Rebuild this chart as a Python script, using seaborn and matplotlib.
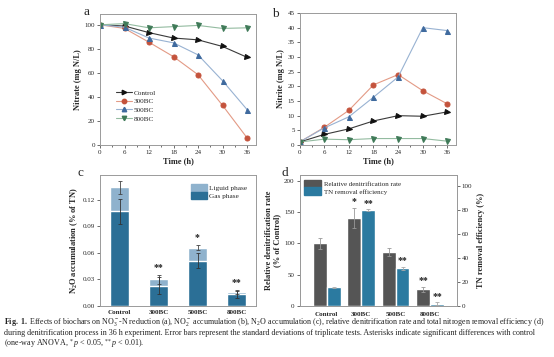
import numpy as np
import pandas as pd
import matplotlib.pyplot as plt
import seaborn as sns
from matplotlib.patches import Patch
from matplotlib.lines import Line2D

# time points (h)
time = [0, 6, 12, 18, 24, 30, 36]
groups = ['Control', '300BC', '500BC', '800BC']

# panel a: nitrate (mg N/L)
nitrate = {
    'Control': [100, 99, 93.5, 89, 87.5, 82, 73],
    '300BC': [100, 97, 85.5, 73.5, 58.5, 33, 6],
    '500BC': [100, 98, 89, 85, 75, 53.5, 29.5],
    '800BC': [100, 101, 97.5, 98.5, 99.5, 97, 97.5],
}
# panel b: nitrite (mg N/L)
nitrite = {
    'Control': [1, 3.6, 5.5, 8.2, 10, 9.8, 11.3],
    '300BC': [1, 6, 11.8, 20.5, 24, 18.5, 14],
    '500BC': [1, 5.8, 9.6, 16.3, 23.2, 40, 39],
    '800BC': [1, 2, 1.8, 2.2, 2.2, 2.2, 1.3],
}

# panel c: N2O accumulation (% of TN)
n2o_total = [0.134, 0.030, 0.066, 0.016]
n2o_total_err = [0.007, 0.005, 0.003, 0.002]
n2o_gas = [0.107, 0.023, 0.051, 0.013]
n2o_gas_err = [0.014, 0.010, 0.0085, 0.004]
n2o_stars = ['', '**', '*', '**']

# panel d
rate = [100, 141, 86, 27]
rate_err = [9, 16, 6, 4]
rate_stars = ['', '*', '', '**']
tn_eff = [15.5, 80, 31.5, 2]
tn_err = [0.6, 0.6, 1.2, 1.5]
tn_stars = ['', '**', '**', '**']

sns.set_style('ticks')
plt.rcParams['font.family'] = ['Liberation Serif', 'DejaVu Serif']
plt.rcParams['mathtext.fontset'] = 'custom'
plt.rcParams['mathtext.rm'] = 'Liberation Serif'
plt.rcParams['mathtext.it'] = 'Liberation Serif:italic'
plt.rcParams['mathtext.bf'] = 'Liberation Serif:bold'

line_col = {'Control': '#3a3a3a', '300BC': '#e39a85', '500BC': '#98b2d2', '800BC': '#93bba0'}
mark_col = {'Control': '#111111', '300BC': '#c4533c', '500BC': '#3f6a9e', '800BC': '#3f7a58'}
markers = {'Control': '>', '300BC': 'o', '500BC': '^', '800BC': 'v'}
spine_c = '#9a9a9a'
fs_tick = 5
fs_lab = 6

fig = plt.figure(figsize=(5.54, 3.57), dpi=100)


def style(ax):
    for s in ax.spines.values():
        s.set_color(spine_c)
        s.set_linewidth(0.7)
        s.set_visible(True)
    ax.tick_params(labelsize=fs_tick, length=2, width=0.6, color='#555555', pad=1.5)


def lines(ax, data):
    for g in groups:
        sns.lineplot(x=time, y=data[g], ax=ax, color=line_col[g], lw=0.8,
                     marker=markers[g], markersize=3.6, markerfacecolor=mark_col[g],
                     markeredgecolor=mark_col[g], label=g, legend=False)
    ax.set_xlim(0, 38.2)
    ax.set_xticks(time)
    ax.set_xticks([3, 9, 15, 21, 27, 33], minor=True)
    ax.tick_params(which='minor', length=1.2, color='#555555')
    ax.set_xlabel('Time (h)', fontsize=fs_lab, fontweight='bold', labelpad=2)
    style(ax)


W = 156 / 554
H = 131 / 357

# panel a
ax_a = fig.add_axes([100 / 554, 1 - 145 / 357, W, H])
lines(ax_a, nitrate)
ax_a.set_ylim(0, 109)
ax_a.set_yticks(range(0, 101, 20))
ax_a.set_ylabel('Nitrate (mg N/L)', fontsize=fs_lab, fontweight='bold', labelpad=2)
handles = [Line2D([], [], color=line_col[g], lw=0.8, marker=markers[g], markersize=3.2,
                  markerfacecolor=mark_col[g], markeredgecolor=mark_col[g]) for g in groups]
ax_a.legend(handles, groups, loc='center left', bbox_to_anchor=(0.06, 0.3), frameon=False,
            fontsize=5.2, handlelength=2.2, labelspacing=0.35, handletextpad=0.3)
fig.text(83 / 554, 1 - 12 / 357, 'a', fontsize=9.5, va='center')

# panel b
ax_b = fig.add_axes([299.5 / 554, 1 - 145 / 357, 157 / 554, 132 / 357])
lines(ax_b, nitrite)
ax_b.set_ylim(0, 45)
ax_b.set_yticks(range(0, 46, 5))
ax_b.set_ylabel('Nitrite (mg N/L)', fontsize=fs_lab, fontweight='bold', labelpad=2)
fig.text(272 / 554, 1 - 14 / 357, 'b', fontsize=9.5, va='center')

# panel c
ax_c = fig.add_axes([100 / 554, 1 - 306 / 357, W, H])
liquid_c = '#8fb2cd'
gas_c = '#2b6f96'
sns.barplot(x=groups, y=n2o_total, ax=ax_c, color=liquid_c, width=0.5, saturation=1, errorbar=None)
sns.barplot(x=groups, y=n2o_gas, ax=ax_c, color=gas_c, width=0.5, saturation=1, errorbar=None)
xc = np.arange(len(groups))
ax_c.errorbar(xc, n2o_total, yerr=n2o_total_err, fmt='none', ecolor='#444444', elinewidth=0.6, capsize=1.5, capthick=0.6)
ax_c.errorbar(xc, n2o_gas, yerr=n2o_gas_err, fmt='none', ecolor='#333333', elinewidth=0.6, capsize=1.5, capthick=0.6)
for i, s in enumerate(n2o_stars):
    if s:
        ax_c.text(i, n2o_total[i] + n2o_total_err[i] + 0.003, s, ha='center', va='bottom',
                  fontsize=7, fontweight='bold', color='#222222')
ax_c.set_xlim(-0.5, 3.5)
ax_c.set_ylim(0, 0.148)
ax_c.set_yticks([0, 0.03, 0.06, 0.09, 0.12])
ax_c.set_yticklabels(['0.00', '0.03', '0.06', '0.09', '0.12'])
ax_c.set_xticks(xc)
ax_c.set_xticklabels(groups, fontweight='bold')
ax_c.set_ylabel(r'$\mathbf{N_2O}$ accumulation (% of TN)', fontsize=fs_lab, fontweight='bold', labelpad=2)
style(ax_c)
ax_c.tick_params(axis='x', length=0, pad=3)
ax_c.legend([Patch(color=liquid_c), Patch(color=gas_c)], ['Liguid phase', 'Gas phase'],
            loc='upper right', frameon=False, fontsize=5.2, handlelength=2.2, handleheight=1.3,
            labelspacing=0.0, handletextpad=0.3, borderaxespad=0.8)
fig.text(77 / 554, 1 - 173 / 357, 'c', fontsize=9.5, va='center')

# panel d
ax_d = fig.add_axes([299.5 / 554, 1 - 306 / 357, 157.5 / 554, H])
ax_d2 = ax_d.twinx()
rate_c = '#555555'
tn_c = '#2b7aa0'
bw = 0.4
xd = np.arange(len(groups))
ax_d.bar(xd - bw / 2, rate, width=bw, color=rate_c, yerr=rate_err, ecolor='#999999',
         error_kw=dict(elinewidth=0.6, capsize=1.5, capthick=0.6))
ax_d2.bar(xd + bw / 2, tn_eff, width=bw, color=tn_c, yerr=tn_err, ecolor='#aaaaaa',
          error_kw=dict(elinewidth=0.6, capsize=1.5, capthick=0.6))
for i in range(len(groups)):
    if rate_stars[i]:
        ax_d.text(i - bw / 2, rate[i] + rate_err[i] + 2, rate_stars[i], ha='center', va='bottom',
                  fontsize=7, fontweight='bold', color='#222222')
    if tn_stars[i]:
        ax_d2.text(i + bw / 2, tn_eff[i] + tn_err[i] + 1, tn_stars[i], ha='center', va='bottom',
                   fontsize=7, fontweight='bold', color='#222222')
ax_d.set_xlim(-0.79, 3.78)
ax_d.set_ylim(0, 209)
ax_d.set_yticks(range(0, 201, 50))
ax_d2.set_ylim(0, 109)
ax_d2.set_yticks(range(0, 101, 20))
ax_d.set_xticks(xd)
ax_d.set_xticklabels(groups, fontweight='bold')
ax_d.set_ylabel('Relative denitrification rate\n(% of Control)', fontsize=fs_lab,
                fontweight='bold', labelpad=2, linespacing=1.1)
ax_d2.set_ylabel('TN removal efficiency (%)', fontsize=fs_lab, fontweight='bold', labelpad=3)
style(ax_d)
style(ax_d2)
ax_d.tick_params(axis='x', length=0, pad=4)
ax_d.legend([Patch(color=rate_c), Patch(color=tn_c)],
            ['Relative denitrification rate', 'TN removal efficiency'],
            loc='upper left', frameon=False, fontsize=5, handlelength=2.4, handleheight=1.3,
            labelspacing=0.0, handletextpad=0.4, borderaxespad=0.3)
fig.text(282 / 554, 1 - 173 / 357, 'd', fontsize=9.5, va='center')

# caption
cap = [
    r'$\mathbf{Fig.\ 1.}$ Effects of biochars on NO$_3^-$-N reduction (a), NO$_2^-$ accumulation (b), '
    r'N$_2$O accumulation (c), relative denitrification rate and total nitrogen removal efficiency (d)',
    'during denitrification process in 36 h experiment. Error bars represent the standard deviations '
    'of triplicate tests. Asterisks indicate significant differences with control',
    r'(one-way ANOVA, $^*p$ < 0.05, $^{**}p$ < 0.01).',
]
for k, line in enumerate(cap):
    fig.text(4 / 554, 1 - (322 + 11 * k) / 357, line, fontsize=5.8, va='center', ha='left',
             color='#222222')

fig.savefig('out.png', dpi=100)
